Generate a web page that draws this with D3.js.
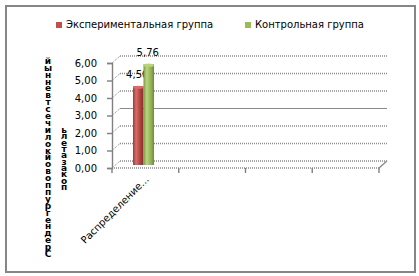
<!DOCTYPE html>
<html>
<head>
<meta charset="utf-8">
<script src="https://cdn.jsdelivr.net/npm/d3@7"></script>
<style>
  body { margin: 0; background: #fff; }
  svg text { font-family: "DejaVu Sans", Verdana, sans-serif; }
</style>
</head>
<body>
<div class="chart"></div>
<script>
// data
const categories = ["Распределение...", "", "", ""];
const seriesNames = ["Экспериментальная группа", "Контрольная группа"];
const seriesValues = [[4.50], [5.76]];
const seriesColors = ["#c0504d", "#9bbb59"];
const yTicks = [0, 1, 2, 3, 4, 5, 6];
const yTitleLine1 = "Среднегрупповой количественный";
const yTitleLine2 = "показатель";

const width = 419, height = 276;
const fmt = v => d3.format(".2f")(v).replace(".", ",");

const svg = d3.select(".chart").append("svg")
    .attr("width", width)
    .attr("height", height);

// frame
svg.append("rect")
    .attr("x", 6).attr("y", 6)
    .attr("width", 409).attr("height", 266)
    .attr("fill", "#fff")
    .attr("stroke", "#868686")
    .attr("stroke-width", 2);

// 3d depth offset of back wall
const dx = 8, dy = -7;

const x0 = d3.scaleBand()
    .domain(d3.range(categories.length))
    .range([112, 379]);
const y = d3.scaleLinear()
    .domain([0, 6])
    .range([168, 63]);

// gradients for the bars
const defs = svg.append("defs");
const shades = [
    ["#9e3936", "#d86c68", "#a53d3a", "#8a2f2c"],
    ["#7b9742", "#b9d47f", "#8fae52", "#6f8a3a"]
];
shades.forEach((s, i) => {
    const g = defs.append("linearGradient").attr("id", "g" + i)
        .attr("x1", 0).attr("x2", 1).attr("y1", 0).attr("y2", 0);
    g.append("stop").attr("offset", "0%").attr("stop-color", s[0]);
    g.append("stop").attr("offset", "30%").attr("stop-color", s[1]);
    g.append("stop").attr("offset", "75%").attr("stop-color", s[2]);
    g.append("stop").attr("offset", "100%").attr("stop-color", s[3]);
});

const grid = svg.append("g").attr("stroke", "#8a8a8a").attr("fill", "none");

// back wall gridlines with diagonal connectors
yTicks.forEach(t => {
    grid.append("line")
        .attr("x1", x0.range()[0] + dx).attr("x2", x0.range()[1] + dx)
        .attr("y1", y(t) + dy).attr("y2", y(t) + dy)
        .attr("stroke-width", t === 3 ? 1 : 1.4)
        .attr("stroke-dasharray", t === 3 ? null : "1,1");
    grid.append("line")
        .attr("x1", x0.range()[0]).attr("y1", y(t))
        .attr("x2", x0.range()[0] + dx).attr("y2", y(t) + dy)
        .attr("stroke-dasharray", "1,1");
});

// floor front edge and right diagonal
grid.append("line")
    .attr("x1", x0.range()[0]).attr("x2", x0.range()[1])
    .attr("y1", y(0)).attr("y2", y(0))
    .attr("stroke-width", 1.4)
    .attr("stroke-dasharray", "1,1");
grid.append("line")
    .attr("x1", x0.range()[1]).attr("y1", y(0))
    .attr("x2", x0.range()[1] + dx).attr("y2", y(0) + dy)
    .attr("stroke-width", 1.4);

// y axis
const yAxis = svg.append("g")
    .attr("transform", `translate(${x0.range()[0]},0)`)
    .call(d3.axisLeft(y).tickValues(yTicks).tickFormat(fmt).tickSize(5).tickPadding(10));
yAxis.select(".domain").attr("stroke", "#808080").attr("stroke-width", 1.4);
yAxis.selectAll(".tick line").attr("stroke", "#808080").attr("stroke-width", 1.4);
yAxis.selectAll(".tick text")
    .attr("font-size", 10)
    .attr("fill", "#000")
    .style("font-family", "DejaVu Sans, sans-serif");

// x axis (ticks at category boundaries)
const xAxisG = svg.append("g").attr("stroke", "#808080").attr("stroke-width", 1.4);
d3.range(categories.length + 1).forEach(i => {
    const xx = i < categories.length ? x0(i) : x0.range()[1];
    xAxisG.append("line")
        .attr("x1", xx).attr("x2", xx)
        .attr("y1", y(0)).attr("y2", y(0) + 5);
});

// category labels
svg.append("g").selectAll("text")
    .data(categories)
    .join("text")
    .attr("transform", (d, i) => `translate(${x0(i) + x0.bandwidth() / 2 + 4},${y(0) + 12}) rotate(-45)`)
    .attr("text-anchor", "end")
    .attr("font-size", 10)
    .attr("fill", "#000")
    .text(d => d);

// bars (drawn at mid depth)
const x1 = d3.scaleBand()
    .domain(d3.range(seriesNames.length))
    .range([17, 38]);
const midX = dx * 0.5, midY = dy * 0.43;

seriesNames.forEach((name, s) => {
    const g = svg.append("g");
    seriesValues[s].forEach((v, c) => {
        const bx = x0(c) + x1(s) + midX;
        const bw = x1.bandwidth();
        const top = y(v) + midY;
        const base = y(0) + midY;
        g.append("rect")
            .attr("x", bx).attr("y", top)
            .attr("width", bw).attr("height", base - top)
            .attr("fill", `url(#g${s})`);
        g.append("ellipse")
            .attr("cx", bx + bw / 2).attr("cy", top + 1)
            .attr("rx", bw / 2).attr("ry", 1.6)
            .attr("fill", shades[s][1]);
        svg.append("text")
            .attr("x", bx + bw / 2 - 1)
            .attr("y", top - 8)
            .attr("text-anchor", "middle")
            .attr("font-size", 10)
            .attr("fill", "#000")
            .text(fmt(v));
    });
});

// stacked vertical axis title (letters read bottom to top)
function stacked(str, cx, bottom, step) {
    const chars = Array.from(str).filter(c => c !== " ");
    svg.append("g").selectAll("text")
        .data(chars)
        .join("text")
        .attr("x", cx)
        .attr("y", (d, i) => bottom - i * step)
        .attr("text-anchor", "middle")
        .attr("dominant-baseline", "central")
        .attr("font-size", 9)
        .attr("font-weight", "bold")
        .attr("fill", "#000")
        .text(d => d);
}
stacked(yTitleLine1, 48, 254, 6.9);
stacked(yTitleLine2, 64, 187, 6.35);

// legend
const legendX = [56, 245];
const legend = svg.append("g").selectAll("g")
    .data(seriesNames)
    .join("g")
    .attr("transform", (d, i) => `translate(${legendX[i]},22)`);
legend.append("rect")
    .attr("width", 6).attr("height", 6)
    .attr("fill", (d, i) => seriesColors[i]);
legend.append("text")
    .attr("x", 10).attr("y", 6)
    .attr("font-size", 10)
    .attr("fill", "#000")
    .text(d => d);
</script>
</body>
</html>
